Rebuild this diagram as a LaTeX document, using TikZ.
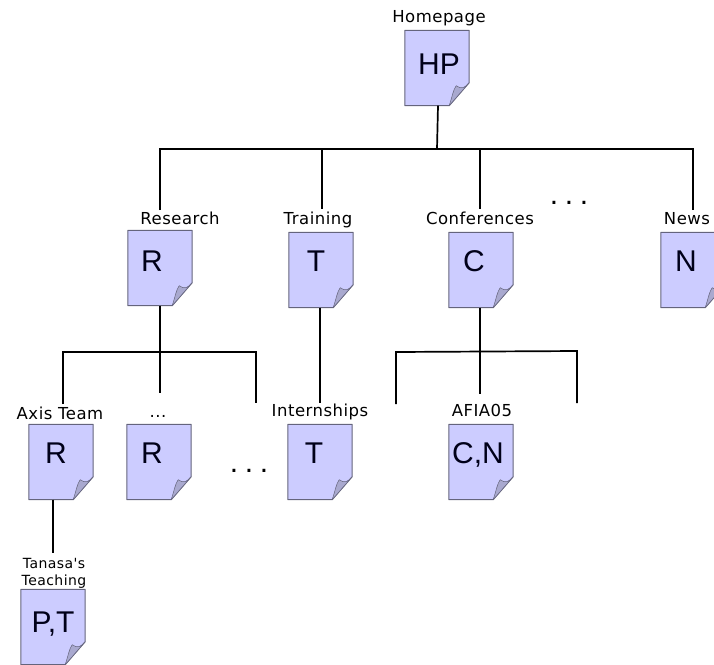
\documentclass[tikz,border=0pt]{standalone}
\usepackage{fontspec}
\setmainfont{DejaVu Sans}
\newfontfamily\letterfont{Liberation Sans}
\newfontfamily\labelfont[LetterSpace=3]{DejaVu Sans}
\newfontfamily\gapfont[LetterSpace=22]{Liberation Sans}
\definecolor{pagefill}{HTML}{CCCCFF}
\definecolor{pageedge}{HTML}{64647C}
\definecolor{foldfill}{HTML}{A9A9CF}
\tikzset{
    pagebox/.style={minimum width=64pt, minimum height=75pt, inner sep=0pt},
    pageline/.style={draw=pageedge, line width=1pt, line join=round},
    pageletter/.style={font=\letterfont\fontsize{30}{32}\selectfont, text=black!90!blue, inner sep=0pt},
    pagelabel/.style={font=\labelfont\fontsize{16.5}{18}\selectfont, inner sep=0pt, anchor=base},
    smalllabel/.style={font=\labelfont\fontsize{14}{16}\selectfont, inner sep=0pt, anchor=base},
    gapdots/.style={font=\gapfont\fontsize{30}{32}\selectfont, inner sep=0pt, anchor=base},
    linkline/.style={draw=black, line width=1.7pt}
}
% name, page centre x, page centre y, letter x, letter y, letter
\newcommand{\webpage}[6]{
    \node[pagebox] (#1) at (#2, #3) {};
    \draw[pageline, fill=pagefill] (#1.north west) -- (#1.north east)
        -- ([yshift=23pt]#1.south east) -- ([xshift=-20pt]#1.south east) -- (#1.south west) -- cycle;
    \draw[pageline, fill=foldfill, line width=0.5pt] ([xshift=-20pt]#1.south east)
        .. controls ([xshift=-17pt, yshift=9pt]#1.south east) and ([xshift=-16pt, yshift=16pt]#1.south east) .. ([xshift=-13pt, yshift=20pt]#1.south east)
        .. controls ([xshift=-8pt, yshift=16pt]#1.south east) and ([xshift=-4pt, yshift=18pt]#1.south east) .. ([yshift=23pt]#1.south east) -- cycle;
    \node[pageletter] (#1text) at (#4, #5) {#6};
}
\begin{document}
\begin{tikzpicture}[x=1pt, y=-1pt]
    \useasboundingbox (0, 0) rectangle (714, 664);
    \clip (0, 0) rectangle (714, 664);

    % Pages
    \webpage{hp}{437}{68}{439}{64}{HP}
    \webpage{research}{160}{268}{152}{261}{R}
    \webpage{training}{321}{270}{316}{261}{T}
    \webpage{conf}{481}{270}{474}{261}{C}
    \webpage{news}{693}{270}{686}{261}{N}
    \webpage{axis}{61}{462}{56}{453}{R}
    \webpage{dots}{159}{462}{152}{453}{R}
    \webpage{intern}{320}{462}{314}{453}{T}
    \webpage{afia}{481}{462}{478}{455}{C,N}
    \webpage{tanasa}{53}{627}{53}{624}{P,T}

    % Labels
    \node[pagelabel] (hplabel) at (439, 22) {Homepage};
    \node[pagelabel] (researchlabel) at (180, 224) {Research};
    \node[pagelabel] (traininglabel) at (318, 224) {Training};
    \node[pagelabel] (conflabel) at (480, 224) {Conferences};
    \node[pagelabel] (newslabel) at (687, 224) {News};
    \node[pagelabel] (axislabel) at (60, 419) {Axis Team};
    \node[pagelabel] (dotslabel) at (158, 417) {...};
    \node[pagelabel] (internlabel) at (320, 416) {Internships};
    \node[pagelabel] (afialabel) at (482, 416) {AFIA05};
    \node[smalllabel] (tanasalabel) at (54, 568) {Tanasa's};
    \node[smalllabel] (teachlabel) at (54, 585) {Teaching};

    % Ellipses between pages
    \node[gapdots] (topdots) at (569, 204) {...};
    \node[gapdots] (lowdots) at (249, 472) {...};

    % Top level tree
    \coordinate (topjoin) at (437, 149);
    \coordinate (topleft) at (160, 149);
    \coordinate (topright) at (693, 149);
    \coordinate (trainjoin) at (322, 149);
    \coordinate (confjoin) at (480, 149);
    \coordinate (researchend) at (160, 210);
    \coordinate (trainend) at (322, 209);
    \coordinate (confend) at (480, 209);
    \coordinate (newsend) at (693, 210);
    \draw[linkline] (hp.south) ++(1, 0) -- (topjoin);
    \draw[linkline] (researchend) -- (topleft) -- (topright) -- (newsend);
    \draw[linkline] (trainjoin) -- (trainend);
    \draw[linkline] (confjoin) -- (confend);

    % Research branch
    \coordinate (resleft) at (63, 352);
    \coordinate (resright) at (256, 352);
    \coordinate (axisend) at (63, 404);
    \coordinate (dotsend) at (160, 393);
    \coordinate (rightend) at (256, 403);
    \draw[linkline] (research.south) -- (dotsend);
    \draw[linkline] (axisend) -- (resleft) -- (resright) -- (rightend);

    % Training branch
    \coordinate (internend) at (320, 403);
    \draw[linkline] (training.south) ++(-1, 0) -- (internend);

    % Conferences branch
    \coordinate (confleft) at (396, 352);
    \coordinate (confright) at (577, 351);
    \coordinate (confleftend) at (396, 404);
    \coordinate (afiaend) at (480, 394);
    \coordinate (confrightend) at (577, 403);
    \draw[linkline] (conf.south) ++(-1, 0) -- (afiaend);
    \draw[linkline] (confleftend) -- (confleft) -- (confright) -- (confrightend);

    % Down to Tanasa's page
    \coordinate (tanasaend) at (53, 553);
    \draw[linkline] (axis.south) ++(-8, 0) -- (tanasaend);
\end{tikzpicture}
\end{document}
